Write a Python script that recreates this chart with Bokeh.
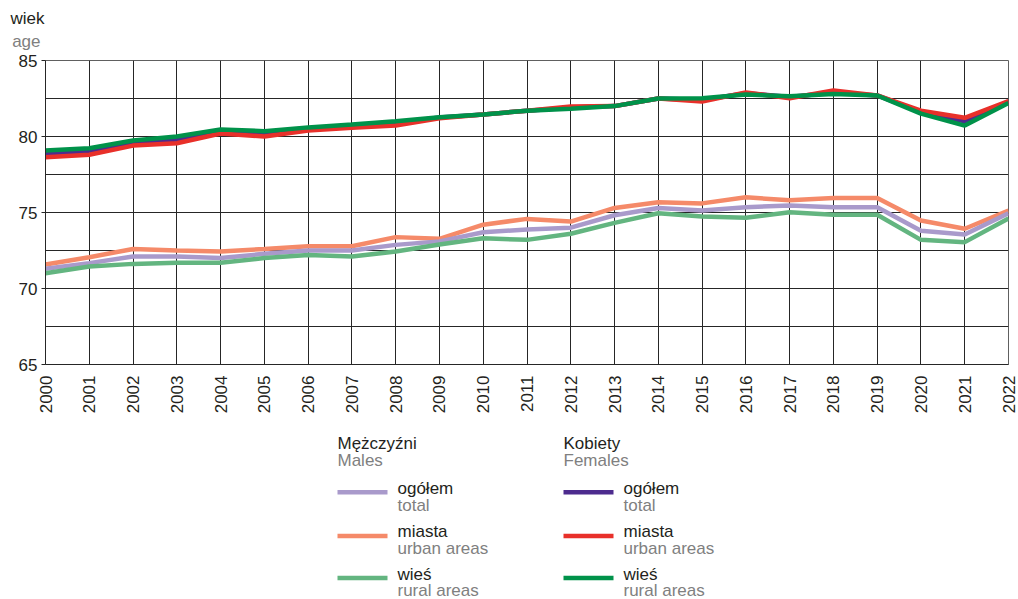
import math
from bokeh.plotting import figure
from bokeh.models import Range1d, FixedTicker, LinearAxis
from bokeh.layouts import column
from bokeh.core.properties import value
from bokeh.embed import file_html
from bokeh.resources import INLINE

years = list(range(2000, 2023))

# Females (Kobiety)
f_total = [78.88, 79.0, 79.6, 79.8, 80.3, 80.2, 80.5, 80.7, 80.87, 81.25, 81.45, 81.7,
           81.9, 82.0, 82.5, 82.4, 82.85, 82.6, 82.9, 82.7, 81.6, 81.0, 82.3]
f_urban = [78.64, 78.8, 79.4, 79.56, 80.2, 80.0, 80.4, 80.57, 80.72, 81.2, 81.45, 81.7,
           81.97, 82.0, 82.5, 82.3, 82.9, 82.52, 83.03, 82.7, 81.7, 81.23, 82.33]
f_rural = [79.08, 79.23, 79.74, 80.0, 80.46, 80.35, 80.6, 80.79, 81.0, 81.27, 81.45, 81.7,
           81.82, 82.0, 82.5, 82.52, 82.76, 82.65, 82.8, 82.7, 81.5, 80.72, 82.2]

# Males (Mężczyźni)
m_total = [71.3, 71.67, 72.1, 72.1, 72.0, 72.28, 72.5, 72.5, 72.87, 73.1, 73.7, 73.88,
           74.0, 74.82, 75.3, 75.13, 75.35, 75.46, 75.35, 75.35, 73.8, 73.55, 74.95]
m_urban = [71.58, 72.06, 72.6, 72.5, 72.43, 72.6, 72.78, 72.78, 73.38, 73.27, 74.2, 74.58,
           74.4, 75.3, 75.68, 75.6, 76.0, 75.8, 75.95, 75.95, 74.47, 73.93, 75.13]
m_rural = [71.0, 71.45, 71.62, 71.7, 71.7, 72.0, 72.2, 72.1, 72.43, 72.9, 73.3, 73.2,
           73.6, 74.32, 74.95, 74.74, 74.65, 75.02, 74.85, 74.85, 73.2, 73.05, 74.6]

y_ticks = [65, 70, 75, 80, 85]
y_minor = [67.5, 72.5, 77.5, 82.5]

C_M_TOTAL = "#a99acb"
C_M_URBAN = "#f58a69"
C_M_RURAL = "#63b580"
C_F_TOTAL = "#4d2b8e"
C_F_URBAN = "#e8302a"
C_F_RURAL = "#00924a"
GRID = "#262626"
DARK = "#231f20"
GRAY = "#808080"
FONT = "Liberation Sans"
FS = "17px"
LW = 4.5
W = 1018


def blank_panel(h, x_range):
    f = figure(width=W, height=h, output_backend="svg", toolbar_location=None,
               x_range=x_range, y_range=Range1d(h, 0),
               x_axis_location=None, y_axis_location=None,
               min_border=0, min_border_left=45, min_border_right=10,
               min_border_top=0, min_border_bottom=0)
    f.grid.visible = False
    f.outline_line_color = None
    f.background_fill_color = "white"
    f.border_fill_color = "white"
    return f


def title_panel(h, text, ypos, color, standoff):
    f = blank_panel(h, Range1d(0, 1))
    ax = LinearAxis(ticker=FixedTicker(ticks=[ypos], minor_ticks=[]),
                    major_label_overrides={ypos: text})
    ax.axis_line_color = None
    ax.major_tick_line_color = None
    ax.minor_tick_line_color = None
    ax.major_tick_out = 0
    ax.major_tick_in = 0
    ax.major_label_standoff = standoff
    ax.major_label_text_font = FONT
    ax.major_label_text_font_size = FS
    ax.major_label_text_color = color
    f.add_layout(ax, "left")
    return f


# axis title "wiek / age" above the chart
t_wiek = title_panel(28, "wiek", 18.4, DARK, 1)
t_age = title_panel(22, "age", 6.4, GRAY, 5)

# main chart
p = figure(width=W, height=370, output_backend="svg", toolbar_location=None,
           x_range=Range1d(2000, 2022), y_range=Range1d(65, 85),
           min_border_left=45, min_border_right=10, min_border_top=10, min_border_bottom=56)
p.background_fill_color = "white"
p.border_fill_color = "white"
p.outline_line_color = "#606060"
p.outline_line_width = 1

p.xaxis.ticker = FixedTicker(ticks=years)
p.xaxis.major_label_orientation = math.pi / 2
p.xaxis.major_tick_out = 0
p.xaxis.major_tick_in = 0
p.xaxis.minor_tick_out = 0
p.xaxis.minor_tick_in = 0
p.xaxis.major_label_standoff = 11
p.xaxis.axis_line_color = GRID

p.yaxis.ticker = FixedTicker(ticks=y_ticks, minor_ticks=y_minor)
p.yaxis.major_tick_out = 4
p.yaxis.major_tick_in = 0
p.yaxis.minor_tick_out = 0
p.yaxis.minor_tick_in = 0
p.yaxis.major_tick_line_color = GRID
p.yaxis.major_label_standoff = 4
p.yaxis.axis_line_color = GRID

for ax in (p.xaxis, p.yaxis):
    ax.major_label_text_font = FONT
    ax.major_label_text_font_size = FS
    ax.major_label_text_color = DARK

p.xgrid.grid_line_color = GRID
p.xgrid.grid_line_width = 1
p.ygrid.grid_line_color = GRID
p.ygrid.grid_line_width = 1
p.ygrid.minor_grid_line_color = GRID
p.ygrid.minor_grid_line_width = 1

p.line(years, m_urban, line_color=C_M_URBAN, line_width=LW)
p.line(years, m_total, line_color=C_M_TOTAL, line_width=LW)
p.line(years, m_rural, line_color=C_M_RURAL, line_width=LW)
p.line(years, f_total, line_color=C_F_TOTAL, line_width=LW)
p.line(years, f_urban, line_color=C_F_URBAN, line_width=LW)
p.line(years, f_rural, line_color=C_F_RURAL, line_width=LW)

# legend panel (x in page pixels; its frame aligns with the chart frame 45..1008)
LH = 179
leg = blank_panel(LH, Range1d(45, 1008))

groups = [
    (337, 397, "Mężczyźni", "Males", [C_M_TOTAL, C_M_URBAN, C_M_RURAL]),
    (563, 623, "Kobiety", "Females", [C_F_TOTAL, C_F_URBAN, C_F_RURAL]),
]
items_pl = ["ogółem", "miasta", "wieś"]
items_en = ["total", "urban areas", "rural areas"]
line_y = [71.7, 115.5, 157.5]
pl_y = [68.3, 111, 153.5]
en_y = [85, 127.5, 169.5]

for (x0, xt, t_pl, t_en, cols) in groups:
    leg.text(x=[x0], y=[23.3], text=[t_pl], text_font=value(FONT), text_font_size=FS,
             text_color=DARK, text_baseline="alphabetic", text_align="left")
    leg.text(x=[x0], y=[40], text=[t_en], text_font=value(FONT), text_font_size=FS,
             text_color=GRAY, text_baseline="alphabetic", text_align="left")
    for i in range(3):
        leg.line([x0, x0 + 50], [line_y[i], line_y[i]], line_color=cols[i], line_width=LW)
        leg.text(x=[xt], y=[pl_y[i]], text=[items_pl[i]], text_font=value(FONT),
                 text_font_size=FS, text_color=DARK, text_baseline="alphabetic")
        leg.text(x=[xt], y=[en_y[i]], text=[items_en[i]], text_font=value(FONT),
                 text_font_size=FS, text_color=GRAY, text_baseline="alphabetic")

layout = column(t_wiek, t_age, p, leg, spacing=0)
open("out.html", "w").write(file_html(layout, INLINE))
